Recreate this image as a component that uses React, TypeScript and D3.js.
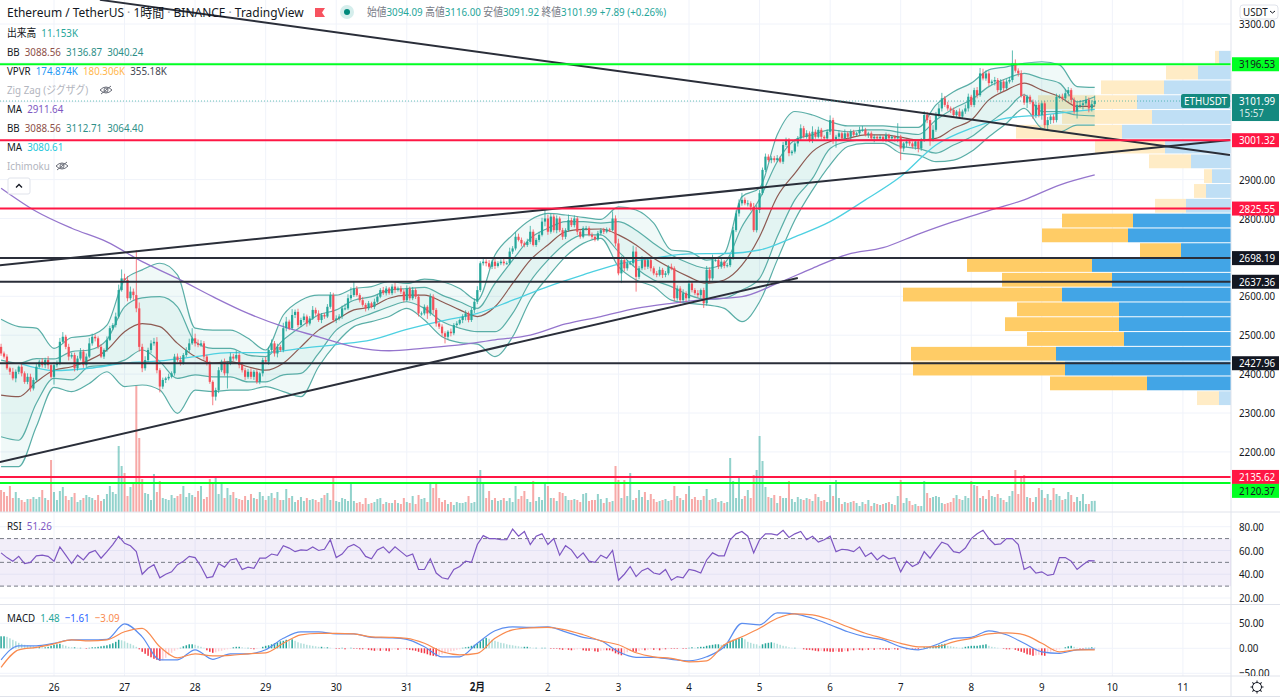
import * as d3 from 'd3';
import React, { useEffect, useRef } from 'react';

const WIDTH = 1280;
const HEIGHT = 699;
const AXIS_X = 1231;
const FONT = '"Noto Sans", "Noto Sans CJK JP", sans-serif';

const GREEN = '#26a69a';

// hourly closes (one per candle, open = previous close)
const closes = [
  2453,2445,2415,2406,2389,2406,2419,2402,2380,2393,2363,2385,2419,2432,2423,2436,2423,2393,2423,2428,
  2483,2496,2470,2445,2449,2415,2440,2458,2423,2445,2479,2496,2492,2470,2445,2462,2488,2518,2526,2548,
  2616,2646,2642,2595,2612,2603,2569,2470,2415,2436,2462,2479,2483,2410,2368,2385,2389,2393,2402,2445,
  2436,2428,2449,2462,2479,2492,2479,2475,2479,2445,2428,2380,2342,2359,2410,2432,2402,2428,2445,2440,
  2449,2423,2410,2393,2406,2393,2406,2380,2402,2436,2432,2462,2479,2453,2470,2462,2518,2535,2518,2552,
  2560,2526,2539,2548,2530,2543,2565,2556,2539,2552,2548,2573,2603,2539,2543,2548,2569,2569,2595,2603,
  2620,2603,2590,2578,2569,2582,2573,2586,2599,2616,2608,2620,2608,2625,2616,2620,2612,2590,2620,2595,
  2616,2599,2556,2556,2573,2556,2599,2565,2530,2522,2505,2496,2509,2505,2526,2530,2539,2548,2556,2539,
  2565,2586,2616,2685,2689,2685,2676,2689,2678,2685,2689,2685,2685,2715,2723,2753,2745,2736,2732,2740,
  2766,2732,2745,2758,2792,2800,2766,2805,2770,2800,2770,2753,2770,2796,2783,2800,2766,2753,2775,2775,
  2758,2753,2746,2762,2770,2766,2772,2770,2800,2736,2659,2693,2672,2685,2685,2715,2650,2672,2693,2676,
  2693,2672,2659,2655,2668,2655,2659,2676,2672,2595,2620,2590,2608,2595,2633,2616,2608,2603,2616,2582,
  2668,2646,2693,2693,2676,2689,2678,2680,2700,2770,2813,2839,2848,2839,2839,2830,2770,2822,2865,2925,
  2959,2950,2955,2950,2955,2946,2989,3002,2968,2972,2993,3006,3032,3010,3019,3002,3023,3010,3028,3010,
  3006,3023,3053,3002,3010,3019,3006,3019,3010,3023,3015,3019,3028,3028,3015,3019,3006,3010,3006,3010,
  3002,3015,3006,3010,3006,3010,2980,2993,2998,2993,2985,2998,2980,3002,3066,3053,3002,3028,3066,3083,
  3109,3092,3083,3079,3066,3075,3062,3075,3083,3113,3092,3130,3117,3173,3160,3173,3148,3152,3156,3130,
  3152,3135,3152,3156,3199,3180,3173,3115,3098,3113,3100,3066,3092,3066,3096,3040,3053,3062,3053,3113,
  3113,3109,3122,3130,3105,3075,3092,3092,3096,3105,3083,3094,3101.99,
];
const firstOpen = 2470;

const wickUp = [
  8,5,6,4,10,6,3,7,5,9,8,6,10,5,9,6,10,5,8,7,10,12,5,8,6,6,7,9,5,8,14,8,6,5,7,4,9,6,5,10,
  14,23,12,10,13,8,116,15,8,10,6,8,10,12,5,6,4,8,5,7,8,10,5,7,12,26,12,10,8,6,5,6,4,6,8,5,8,6,10,7,
  12,5,8,6,7,9,5,6,4,6,8,8,10,6,8,5,14,12,5,15,6,8,6,8,5,6,10,6,8,5,5,7,8,6,8,6,7,12,10,20,
  17,6,5,8,5,6,4,8,6,5,8,6,4,6,10,5,7,6,8,5,8,5,6,5,6,4,8,6,5,4,6,5,4,8,5,6,4,6,8,5,
  6,8,10,5,12,6,8,5,8,5,6,7,5,10,6,12,8,6,5,8,15,6,5,8,10,22,10,8,6,8,5,6,5,14,6,8,5,6,5,6,
  5,6,4,6,5,6,5,4,18,8,12,10,5,8,6,15,12,6,10,8,5,6,5,6,8,5,6,4,8,5,8,6,10,5,8,6,5,8,4,6,
  10,6,14,6,5,8,4,6,5,8,8,10,18,6,8,5,10,12,8,6,8,6,5,6,8,5,8,6,5,4,8,6,10,6,8,5,14,6,8,5,
  4,6,12,6,5,8,4,10,5,6,5,4,8,10,5,4,5,6,4,5,4,6,3,5,4,35,5,4,5,4,5,4,6,5,10,8,10,12,8,12,
  14,6,8,5,6,4,8,5,10,8,5,6,8,14,12,8,6,5,8,5,6,5,6,8,33,10,6,8,6,5,5,6,8,6,5,6,8,5,6,8,
  6,8,10,8,5,6,8,12,8,10,6,10,14,
];
const wickDown = [
  6,5,4,8,5,10,6,8,5,6,8,5,6,4,6,8,10,5,20,6,5,4,6,10,5,8,6,5,7,6,4,6,8,5,4,6,5,3,5,6,
  5,4,6,8,5,12,10,12,10,6,5,8,6,8,15,6,8,5,4,6,5,6,4,5,6,4,8,6,5,8,6,5,22,10,8,5,6,39,5,6,
  5,8,6,8,5,6,8,5,6,8,5,8,6,8,10,5,6,8,5,4,8,6,5,6,8,5,4,6,5,8,6,4,5,6,8,5,6,5,4,6,
  5,4,6,5,8,5,4,6,5,4,5,6,4,5,8,4,6,5,4,6,5,6,8,6,5,14,6,10,8,6,8,17,6,8,5,6,4,8,10,6,
  5,8,6,5,6,8,5,6,8,4,5,6,4,5,6,5,4,8,6,5,6,4,5,6,4,12,8,5,6,8,5,8,6,4,5,6,8,5,4,6,
  4,6,5,4,5,6,4,5,3,8,5,25,8,6,5,8,38,6,5,8,6,8,5,6,4,8,6,5,5,8,6,8,5,10,8,6,5,6,8,12,
  6,8,5,4,6,5,6,4,5,6,5,8,6,5,8,10,5,6,8,5,6,5,8,6,5,4,6,5,8,6,5,8,6,4,5,6,8,5,4,6,
  5,6,8,10,20,6,5,4,6,8,5,4,6,5,4,8,5,10,6,5,4,6,5,4,8,10,30,8,10,6,5,8,10,6,5,8,15,4,5,6,
  8,5,6,8,5,6,4,5,6,8,5,6,8,4,5,6,8,5,10,6,5,8,4,5,6,5,8,4,6,14,6,10,8,6,12,8,14,10,8,6,
  5,6,5,8,10,6,18,8,12,6,10,8,6,
];

// volume per candle, thousands of ETH
const volumes = [
  22,20,16,26,14,20,14,12,10,13,13,15,13,15,22,14,12,52,20,12,21,25,16,12,15,19,10,12,14,17,
  15,14,12,17,11,13,18,26,20,18,66,46,39,16,25,28,127,74,33,19,18,12,38,20,31,14,13,12,17,14,
  16,18,26,15,19,17,15,21,26,13,15,33,30,34,18,28,14,24,17,20,14,13,12,16,12,18,14,13,20,16,
  12,16,19,14,20,12,12,23,14,16,10,12,15,11,14,12,13,12,10,14,17,19,12,36,11,10,14,13,11,29,
  11,9,10,8,14,8,9,10,13,14,8,10,9,9,12,9,8,14,10,9,16,8,17,13,14,10,29,24,29,14,
  10,12,8,10,7,10,9,9,10,16,9,10,36,42,28,14,21,12,14,11,12,14,11,14,10,26,13,16,21,13,
  10,31,11,15,12,28,26,14,14,11,20,19,16,12,12,13,12,10,18,19,11,12,12,18,13,9,14,10,11,46,
  32,14,32,16,39,12,14,22,15,20,12,18,13,10,11,12,13,11,12,26,16,14,12,18,26,13,15,12,12,16,
  23,12,13,14,10,11,9,10,54,31,14,36,13,16,22,14,37,42,76,51,25,15,14,17,9,16,14,14,31,13,
  10,15,13,12,14,13,11,18,15,11,12,10,27,16,32,14,8,10,9,10,11,9,6,10,8,12,6,9,8,7,
  8,9,10,8,7,16,32,9,14,11,7,8,6,6,31,19,14,15,16,15,9,8,9,10,14,17,13,12,16,14,
  31,27,26,14,16,13,22,16,15,18,14,12,10,16,21,42,18,34,37,15,14,10,15,24,22,14,18,12,24,18,
  16,12,13,20,17,10,15,11,18,8,8,11,11.153,
];

// Bollinger bands, read every 6 candles
const BAND_STEP = 6;
const bbUpper2 = [
  2541,2522,2518,2466,2494,2499,2526,2642,2668,2685,2655,2518,2513,2513,2492,2462,2552,2590,2603,2603,2620,
  2625,2638,2633,2644,2638,2620,2590,2706,2758,2796,2813,2809,2803,2798,2830,2822,2788,2719,2715,2693,2710,
  2856,2878,3015,3075,3066,3049,3038,3038,3038,3034,3034,3092,3126,3148,3182,3190,3199,3203,3195,3139,3137,
];
const bbUpper1 = [
  2436,2428,2440,2439,2458,2462,2488,2573,2596,2599,2573,2483,2466,2466,2449,2445,2488,2522,2552,2565,2590,
  2599,2616,2620,2623,2603,2586,2569,2633,2693,2749,2775,2792,2792,2788,2792,2770,2736,2706,2685,2672,2685,
  2779,2850,2946,3002,3015,3028,3023,3028,3028,3021,3016,3053,3083,3105,3139,3160,3173,3160,3148,3100,3113,
];
const bbMiddle = [
  2346,2342,2380,2410,2419,2436,2462,2509,2530,2522,2479,2445,2428,2432,2419,2410,2428,2470,2513,2539,2565,
  2573,2595,2603,2603,2586,2565,2548,2573,2633,2693,2732,2766,2772,2773,2758,2732,2698,2672,2650,2633,2642,
  2680,2753,2856,2916,2972,2998,3006,3015,3015,3009,3002,3006,3032,3053,3105,3130,3148,3130,3113,3088,3089,
];
const bbLower1 = [
  2239,2230,2325,2389,2385,2419,2423,2436,2462,2432,2389,2398,2393,2393,2380,2380,2398,2402,2453,2513,2539,
  2556,2573,2586,2569,2535,2518,2509,2509,2556,2638,2693,2736,2758,2758,2715,2672,2642,2625,2603,2592,2595,
  2616,2646,2753,2848,2903,2980,2998,3002,3002,2985,2980,2968,2989,3010,3045,3079,3118,3075,3075,3066,3064,
];
const bbLower2 = [
  2162,2162,2265,2366,2355,2376,2406,2368,2372,2359,2299,2359,2355,2359,2359,2368,2355,2342,2419,2479,2522,
  2535,2548,2569,2539,2496,2481,2477,2445,2496,2590,2650,2702,2736,2749,2676,2642,2625,2590,2582,2578,2569,
  2535,2586,2693,2796,2873,2938,2985,2993,2993,2968,2963,2946,2950,2972,3010,3045,3083,3032,3023,3040,3040,
];

// moving averages, read every 12 candles (the fast one starts a little late)
const MA_STEP = 12;
const maFastStart = 6;
const maFast = [
  2428,2409,2415,2428,2434,2445,2455,2455,2466,2476,2488,2515,2537,2556,2590,2625,2655,2683,2698,2709,2710,
  2719,2753,2792,2848,2908,2989,3032,3058,3066,3076,
];
const maFastLast = 3080.61;
const maSlow = [
  2878,2818,2775,2740,2689,2646,2599,2556,2522,2496,2470,2460,2467,2475,2488,2500,2529,2548,2569,2582,2592,
  2599,2633,2672,2708,2725,2760,2792,2820,2848,2886,2912,
];

const RSI_STEP = 2;
const rsiValues = [
  58,54,51,55,49,50,55.5,56,55,51,63,56,49,56,52,58,60,53.5,59,65,72,66,64,59,40,45,48,37,40,42,48,51,55,54,46.5,37,38,49,46,
  52,53,44,46,45,53.5,53.5,57,56,64,62,59,60.5,60,63,60,61,69,54,57,63,65,62,55,53,60.5,63,58,63,59,55,57,44,44,53,41,37,36,44,
  46.5,51,50,65,72.5,70,70,69,69,78,72,76,65,72,74,65,70,56,64,60.5,53.5,58,51,50,56,53.5,60,35,40,46.5,38,43,45,41,40,44,35,38,
  37,44,43,41,52,58,55.5,55.5,69,74,76,72,58,69,74,74,73,77,71,74,76,69,72,67,69,72,59,61,60.5,59,63,55,58,52,56,53,54,42,51,
  46.5,49,59,53.5,60.5,67,65,59,58,62,70,74,77,70,65,65.5,70,70,65,44,46.5,41,42,39,40,54,54,51,44,48,51.5,51.26,
];

const MACD_STEP = 6;
const macdLine = [
  -23,5,5,10,17,17,18,49,23,-23,-23,-3,-22,-11,-11,-3,20,33,33,29,29,22,21,18,3,-17,-17,10,35,43,42,43,33,22,15,-7,-18,
  -18,-22,-25,-17,3,50,47,71,69,60,47,33,23,17,3,-3,7,20,22,35,27,10,-7,-10,-3,-1.61,
];
const signalLine = [
  -38,-3,2,9,17,15,17,33,40,3,-19,-11,-15,-14,-11,-9,10,27,30,30,29,23,22,20,10,-7,-13,-10,20,37,41,42,37,27,15,7,-9,
  -17,-20,-27,-25,7,23,40,60,69,67,57,43,30,20,10,3,3,13,20,29,31,27,10,-7,-3,-3.09,
];
const macdHist = [
  24,24,23,20,17,14,11,9,7,6,5,4,3,3,2,2,3,5,7,8,9,7,5,3,2,2,1,1,0,-1,1,2,2,3,4,5,6,8,10,13,
  17,16,14,11,9,6,3,-2,-7,-11,-15,-18,-21,-23,-25,-24,-19,-14,-9,-5,-2,1,4,6,8,8,7,5,3,1,
  -4,-7,-9,-8,-6,-5,-3,-2,-1,2,3,3,2,1,1,-1,-2,-1,0,3,5,6,8,10,12,14,15,17,16,18,
  15,12,10,9,7,6,5,4,3,3,2,2,1,0,-1,-1,1,-2,0,1,-1,-1,-2,-2,-1,-3,-4,-5,-4,-5,
  -4,-5,-6,-3,-2,-3,-2,-1,-2,-3,-4,-5,-7,-9,-10,-12,-14,-15,-16,-14,-12,-10,-8,-6,-5,-3,-2,1,2,3,
  5,7,10,14,18,21,19,17,15,13,11,10,8,7,6,5,4,3,3,3,2,1,1,0,1,1,0,-1,-1,-1,
  -2,-3,-2,-3,-4,-3,-2,-1,-4,-5,-5,-3,-6,-7,-5,-4,-4,-4,-6,-10,-12,-14,-13,-8,-5,-6,-7,-5,-3,-4,
  -3,-2,-3,-2,-4,-2,-2,-1,-1,-1,-1,0,-1,-1,1,2,1,2,3,3,5,6,7,8,8,7,8,9,15,17,
  18,20,21,18,13,11,9,8,5,8,10,11,12,11,9,7,5,4,2,1,1,0,0,-2,-3,-3,-4,-5,-6,-5,
  -6,-6,-7,-7,-6,-7,-7,-5,-6,-4,-4,-3,-3,-4,-3,-3,-2,-3,-2,-2,-2,-3,-3,-2,-2,-3,-2,-1,-2,-1,
  -1,-1,-2,-1,2,2,3,4,5,7,8,9,5,4,3,2,1,1,3,4,5,5,5,6,7,8,5,3,2,1,
  0,-1,-2,-2,-1,-3,-5,-7,-9,-12,-13,-15,-14,-13,-14,-15,-10,-7,-6,-3,-2,0,2,4,5,3,1,-1,-1,1,1,2,1.48,
];

// visible range volume profile, top bin first (thousands)
const vpvrTop = 3231;
const vpvrBinSize = 38.05;
const vpvrUp = [24,66,134,188,158,218,132,80,38,50,90,196,206,100,278,238,338,224,224,214,350,332,168,24];
const vpvrDown = [8,64,126,198,180,212,140,84,16,24,62,142,172,82,250,220,318,204,228,194,290,304,194,44];
const vpvrStrong = [11,12,13,14,15,16,17,18,19,20,21,22];

const greenLevels = [3196.53, 2120.37];
const redLevels = [3001.32, 2825.55, 2135.62];
const blackLevels = [2698.19, 2637.36, 2427.96];

// [candle, price, candle, price]
const trendLines = [
  [33.6, 3362, 418, 2963],
  [-0.4, 2680, 418, 3002],
  [-0.4, 2174, 271, 2647],
];

const dayTicks = ['26', '27', '28', '29', '30', '31', '2月', '2', '3', '4', '5', '6', '7', '8', '9', '10', '11'];
const priceTicks = d3.range(2200, 3301, 100);
// the others sit under a price tag in the picture
const priceLabels = [3300, 2900, 2800, 2600, 2500, 2400, 2300, 2200];
const rsiTicks = [80, 60, 40, 20];
const macdTicks = [50, 0, -50];
const lastPrice = 3101.99;

type Part = [string, string];
const titleParts: Part[] = [['Ethereum / TetherUS', '#131722'], [' · ', '#9598a1'], ['1時間', '#131722'], [' · ', '#9598a1'], ['BINANCE', '#131722'], [' · ', '#9598a1'], ['TradingView', '#131722']];
const ohlcParts: Part[] = [
  ['始値', '#787b86'], ['3094.09 ', GREEN], ['高値', '#787b86'], ['3116.00 ', GREEN], ['安値', '#787b86'], ['3091.92 ', GREEN],
  ['終値', '#787b86'], ['3101.99 ', GREEN], ['+7.89 (+0.26%)', GREEN],
];
const legendRows: Part[][] = [
  [['出来高  ', '#131722'], ['11.153K', GREEN]],
  [['BB  ', '#131722'], ['3088.56  ', '#8d4f48'], ['3136.87  ', '#2e8f88'], ['3040.24', '#2e8f88']],
  [['VPVR  ', '#131722'], ['174.874K  ', '#2196f3'], ['180.306K  ', '#ffb74d'], ['355.18K', '#434651']],
  [['Zig Zag (ジグザグ)', '#b2b5be']],
  [['MA  ', '#131722'], ['2911.64', '#7e57c2']],
  [['BB  ', '#131722'], ['3088.56  ', '#8d4f48'], ['3112.71  ', '#2e8f88'], ['3064.40', '#2e8f88']],
  [['MA  ', '#131722'], ['3080.61', '#26c6da']],
  [['Ichimoku', '#b2b5be']],
];

const x = d3.scaleLinear().domain([18, 354]).range([54, 1041.8]);
const y = d3.scaleLinear().domain([3300, 2300]).range([24, 413]);
const yVol = d3.scaleLinear().domain([0, 127]).range([512, 385]);
const yRsi = d3.scaleLinear().domain([80, 20]).range([526.7, 598]);
const yMacd = d3.scaleLinear().domain([50, -50]).range([623.3, 673.3]);

const addParts = (sel: any, parts: Part[], px: number, py: number, size: number) => {
  const t = sel.append('text').attr('x', px).attr('y', py).attr('font-size', size).style('white-space', 'pre');
  parts.forEach(([s, c]) => t.append('tspan').attr('fill', c).text(s));
  return t;
};

const App: React.FC = () => {
  const ref = useRef<SVGSVGElement | null>(null);

  useEffect(() => {
    const svg = d3.select(ref.current);
    svg.selectAll('*').remove();
    svg.attr('font-family', FONT);
    svg.append('rect').attr('width', WIDTH).attr('height', HEIGHT).attr('fill', '#fff');

    const clip = svg.append('defs');
    clip.append('clipPath').attr('id', 'main').append('rect').attr('width', AXIS_X).attr('height', 512);
    clip.append('clipPath').attr('id', 'macd-ticks').append('rect').attr('x', 0).attr('y', 605).attr('width', 49).attr('height', 71);

    // grid
    const grid = svg.append('g').attr('stroke', '#f0f3fa').attr('stroke-width', 1);
    dayTicks.forEach((_, k) => {
      const px = x(18 + k * 24);
      grid.append('line').attr('x1', px).attr('x2', px).attr('y1', 0).attr('y2', 676);
    });
    [...priceTicks.map(d => y(d)), ...rsiTicks.map(d => yRsi(d)), ...macdTicks.map(d => yMacd(d))].forEach(py => {
      grid.append('line').attr('x1', 0).attr('x2', AXIS_X).attr('y1', py).attr('y2', py);
    });

    const opens = closes.map((_, i) => (i === 0 ? firstOpen : closes[i - 1]));
    const isUp = (i: number) => closes[i] >= opens[i];

    // volume
    svg.append('g').selectAll('rect').data(volumes).join('rect')
      .attr('x', (_, i) => x(i) - 1)
      .attr('width', 2)
      .attr('y', d => yVol(d))
      .attr('height', d => 512 - yVol(d))
      .attr('fill', (_, i) => (isUp(i) ? 'rgba(38,166,154,0.5)' : 'rgba(239,83,80,0.5)'));

    // volume profile
    const vpWidth = d3.scaleLinear().domain([0, 700]).range([0, 350]);
    const vp = svg.append('g');
    vpvrUp.forEach((up, k) => {
      const strong = vpvrStrong.includes(k);
      const top = y(vpvrTop - k * vpvrBinSize);
      const h = y(vpvrTop - (k + 1) * vpvrBinSize) - top - 1;
      const wUp = vpWidth(up);
      const wDown = vpWidth(vpvrDown[k]);
      vp.append('rect').attr('x', AXIS_X - wUp).attr('y', top).attr('width', wUp).attr('height', h)
        .attr('fill', strong ? '#42a5e6' : '#bfdff5');
      vp.append('rect').attr('x', AXIS_X - wUp - wDown).attr('y', top).attr('width', wDown).attr('height', h)
        .attr('fill', strong ? '#ffcc66' : '#ffecc6');
    });

    const plot = svg.append('g').attr('clip-path', 'url(#main)');

    // bollinger bands
    const bandArea = d3.area<number>()
      .x((_, i) => x(i * BAND_STEP))
      .curve(d3.curveMonotoneX);
    const bandLine = d3.line<number>()
      .x((_, i) => x(i * BAND_STEP))
      .y(d => y(d))
      .curve(d3.curveMonotoneX);
    plot.append('path').datum(bbUpper2)
      .attr('d', bandArea.y0((_, i) => y(bbLower2[i])).y1(d => y(d)) as any)
      .attr('fill', 'rgba(38,166,154,0.07)');
    plot.append('path').datum(bbUpper1)
      .attr('d', bandArea.y0((_, i) => y(bbLower1[i])).y1(d => y(d)) as any)
      .attr('fill', 'rgba(38,166,154,0.06)');
    [bbUpper2, bbUpper1, bbLower1, bbLower2].forEach(s => {
      plot.append('path').datum(s).attr('d', bandLine as any).attr('fill', 'none').attr('stroke', '#5aaea7').attr('stroke-width', 1.2);
    });
    plot.append('path').datum(bbMiddle).attr('d', bandLine as any).attr('fill', 'none').attr('stroke', '#8d5a52').attr('stroke-width', 1.2);

    // moving averages
    const maFastPts: [number, number][] = [...maFast.map((v, i): [number, number] => [maFastStart + i * MA_STEP, v]), [372, maFastLast]];
    const maLine = d3.line<[number, number]>().x(d => x(d[0])).y(d => y(d[1])).curve(d3.curveMonotoneX);
    plot.append('path').datum(maFastPts).attr('d', maLine as any).attr('fill', 'none').attr('stroke', '#4dd0e1').attr('stroke-width', 1.3);
    plot.append('path').datum(maSlow.map((v, i): [number, number] => [i * MA_STEP, v])).attr('d', maLine as any)
      .attr('fill', 'none').attr('stroke', '#9575cd').attr('stroke-width', 1.3);

    // candles
    const candles = plot.append('g');
    closes.forEach((c, i) => {
      const o = opens[i];
      const color = isUp(i) ? GREEN : '#f4505a';
      const hi = Math.max(o, c) + wickUp[i];
      const lo = Math.min(o, c) - wickDown[i];
      candles.append('line').attr('x1', x(i)).attr('x2', x(i)).attr('y1', y(hi)).attr('y2', y(lo))
        .attr('stroke', color).attr('stroke-opacity', 0.75).attr('stroke-width', 1);
      candles.append('rect').attr('x', x(i) - 1.1).attr('width', 2.2)
        .attr('y', y(Math.max(o, c))).attr('height', Math.max(1, Math.abs(y(o) - y(c))))
        .attr('fill', color);
    });

    // last price dotted line
    svg.append('line').attr('x1', 0).attr('x2', AXIS_X).attr('y1', y(lastPrice)).attr('y2', y(lastPrice))
      .attr('stroke', GREEN).attr('stroke-opacity', 0.7).attr('stroke-dasharray', '1 2');

    // drawn lines
    trendLines.forEach(([a, pa, b, pb]) => {
      plot.append('line').attr('x1', x(a)).attr('y1', y(pa)).attr('x2', x(b)).attr('y2', y(pb))
        .attr('stroke', '#2a2e39').attr('stroke-width', 2);
    });
    const level = (v: number, color: string) => {
      svg.append('line').attr('x1', 0).attr('x2', AXIS_X).attr('y1', y(v)).attr('y2', y(v)).attr('stroke', color).attr('stroke-width', 2);
    };
    greenLevels.forEach(v => level(v, '#00ff22'));
    redLevels.forEach(v => level(v, '#ff1744'));
    blackLevels.forEach(v => level(v, '#2a2e39'));

    // separators
    const sep = svg.append('g').attr('stroke', '#e0e3eb');
    [[0, WIDTH, 512, 512], [0, WIDTH, 604.5, 604.5], [0, WIDTH, 676, 676], [AXIS_X, AXIS_X, 0, 696], [0, WIDTH, 696.5, 696.5]].forEach(([a, b, c, d]) => {
      sep.append('line').attr('x1', a).attr('x2', b).attr('y1', c).attr('y2', d);
    });

    // RSI
    svg.append('rect').attr('x', 0).attr('width', AXIS_X).attr('y', yRsi(70)).attr('height', yRsi(30) - yRsi(70)).attr('fill', 'rgba(126,87,194,0.1)');
    [70, 50, 30].forEach(v => {
      svg.append('line').attr('x1', 0).attr('x2', AXIS_X).attr('y1', yRsi(v)).attr('y2', yRsi(v))
        .attr('stroke', '#787b86').attr('stroke-dasharray', '4 3');
    });
    const rsiPath = d3.line<number>().x((_, i) => x(i * RSI_STEP)).y(d => yRsi(d));
    svg.append('path').datum(rsiValues).attr('d', rsiPath as any).attr('fill', 'none').attr('stroke', '#7e57c2').attr('stroke-width', 1.2);

    // MACD
    svg.append('g').selectAll('rect').data(macdHist).join('rect')
      .attr('x', (_, i) => x(i) - 0.75)
      .attr('width', 1.5)
      .attr('y', d => Math.min(yMacd(d), yMacd(0)))
      .attr('height', d => Math.abs(yMacd(d) - yMacd(0)))
      .attr('fill', (d, i) => {
        const prev = i === 0 ? d : macdHist[i - 1];
        if (d >= 0) return d >= prev ? GREEN : '#b2dfdb';
        return d <= prev ? '#f23645' : '#ffcdd2';
      });
    const macdPath = d3.line<number>().x((_, i) => x(i * MACD_STEP)).y(d => yMacd(d)).curve(d3.curveMonotoneX);
    svg.append('path').datum(macdLine).attr('d', macdPath as any).attr('fill', 'none').attr('stroke', '#5b8def').attr('stroke-width', 1.2);
    svg.append('path').datum(signalLine).attr('d', macdPath as any).attr('fill', 'none').attr('stroke', '#f98b4f').attr('stroke-width', 1.2);

    // axes
    const styleAxis = (g: any) => {
      g.select('.domain').remove();
      g.selectAll('line').remove();
      g.selectAll('text').attr('fill', '#131722').attr('font-size', 11.5).attr('font-family', FONT).attr('x', 8);
    };
    svg.append('g').attr('transform', `translate(${AXIS_X},0)`)
      .call(d3.axisRight(y).tickValues(priceLabels).tickFormat(d3.format('.2f') as any)).call(styleAxis);
    svg.append('g').attr('transform', `translate(${AXIS_X},0)`)
      .call(d3.axisRight(yRsi).tickValues(rsiTicks).tickFormat(d3.format('.2f') as any)).call(styleAxis);
    svg.append('g').attr('transform', `translate(${AXIS_X},0)`).attr('clip-path', 'url(#macd-ticks)')
      .call(d3.axisRight(yMacd).tickValues(macdTicks).tickFormat(d => d3.format('.2f')(d as number).replace('-', '−')) as any).call(styleAxis);

    const days = svg.append('g').attr('font-size', 11.5).attr('fill', '#131722').attr('text-anchor', 'middle');
    dayTicks.forEach((d, k) => {
      days.append('text').attr('x', x(18 + k * 24)).attr('y', 691).attr('font-size', 11.5).attr('font-weight', d === '2月' ? 700 : 400).text(d);
    });

    // price tags; shift moves a tag off the one it would collide with
    const tag = (v: number, fill: string, color: string, shift = 0) => {
      const py = y(v) + shift;
      svg.append('rect').attr('x', AXIS_X + 1).attr('y', py - 7).attr('width', 47).attr('height', 14).attr('fill', fill);
      svg.append('text').attr('x', AXIS_X + 8).attr('y', py + 4).attr('font-size', 11.5).attr('fill', color).text(v.toFixed(2));
    };
    tag(3196.53, '#00ff22', '#131722');
    tag(3001.32, '#ff1744', '#fff');
    tag(2825.55, '#ff1744', '#fff');
    tag(2698.19, '#131722', '#fff');
    tag(2637.36, '#131722', '#fff');
    tag(2427.96, '#131722', '#fff');
    tag(2135.62, '#ff1744', '#fff');
    tag(2120.37, '#00ff22', '#131722', 8);

    const py = y(lastPrice);
    svg.append('rect').attr('x', AXIS_X + 1).attr('y', py - 7).attr('width', 47).attr('height', 27).attr('fill', '#14897f');
    svg.append('text').attr('x', AXIS_X + 8).attr('y', py + 4).attr('font-size', 11.5).attr('fill', '#fff').text(lastPrice.toFixed(2));
    svg.append('text').attr('x', AXIS_X + 8).attr('y', py + 16).attr('font-size', 11.5).attr('fill', '#fff').attr('fill-opacity', 0.85).text('15:57');
    svg.append('rect').attr('x', 1181).attr('y', py - 7).attr('width', 49).attr('height', 14).attr('rx', 2).attr('fill', '#14897f');
    svg.append('text').attr('x', 1205.5).attr('y', py + 4).attr('font-size', 11.5).attr('text-anchor', 'middle').attr('fill', '#fff').text('ETHUSDT');

    // USDT button
    svg.append('rect').attr('x', 1240).attr('y', 5).attr('width', 38).attr('height', 14).attr('rx', 3).attr('fill', '#fff').attr('stroke', '#e0e3eb');
    svg.append('text').attr('x', 1243).attr('y', 16).attr('font-size', 11.5).attr('fill', '#131722').text('USDT');
    svg.append('path').attr('d', 'M1270 11l2.5 2 2.5-2').attr('fill', 'none').attr('stroke', '#131722');

    // gear
    const gear = svg.append('g').attr('transform', 'translate(1257,687)').attr('stroke', '#131722').attr('fill', 'none');
    gear.append('circle').attr('r', 4.5);
    d3.range(0, 360, 45).forEach(a => {
      gear.append('line').attr('x1', 0).attr('x2', 0).attr('y1', -4.5).attr('y2', -6.5).attr('transform', `rotate(${a})`);
    });

    // legend
    addParts(svg, titleParts, 7, 17, 13);
    svg.append('path').attr('d', 'M315 8h10l-3 4.5 3 4.5h-10z').attr('fill', '#f7525f');
    svg.append('circle').attr('cx', 347).attr('cy', 12).attr('r', 7).attr('fill', '#d5eeec');
    svg.append('circle').attr('cx', 347).attr('cy', 12).attr('r', 3).attr('fill', '#00897b');
    addParts(svg, ohlcParts, 367, 16, 11.5);
    legendRows.forEach((row, k) => {
      addParts(svg, row, 7, 37 + k * 19, 11.5);
    });
    const eye = (cx: number, cy: number) => {
      const g = svg.append('g').attr('transform', `translate(${cx},${cy})`).attr('fill', 'none').attr('stroke', '#6a6d78');
      g.append('path').attr('d', 'M-6 0Q0-6 6 0Q0 6-6 0z');
      g.append('circle').attr('r', 2);
      g.append('line').attr('x1', -5).attr('y1', 4).attr('x2', 5).attr('y2', -4);
    };
    eye(106, 90);
    eye(62, 166);
    svg.append('rect').attr('x', 8).attr('y', 178).attr('width', 22).attr('height', 16).attr('rx', 2).attr('fill', '#fff').attr('stroke', '#e0e3eb');
    svg.append('path').attr('d', 'M16 187.5l3-3 3 3').attr('fill', 'none').attr('stroke', '#131722').attr('stroke-width', 1.3);

    addParts(svg, [['RSI  ', '#131722'], ['51.26', '#7e57c2']], 7, 530, 11.5);
    addParts(svg, [['MACD  ', '#131722'], ['1.48  ', GREEN], ['−1.61  ', '#2962ff'], ['−3.09', '#f98b4f']], 7, 622, 11.5);

    // the screenshot's text is narrower than any installed face, so squeeze it
    svg.selectAll<SVGTextElement, unknown>('text').each(function () {
      const px = Number(this.getAttribute('x')) || 0;
      const ratio = Number(this.getAttribute('font-size')) === 13 ? 0.92 : 0.85;
      this.setAttribute('transform', `translate(${px},0) scale(${ratio},1) translate(${-px},0)`);
    });
  }, []);

  return <svg ref={ref} width={WIDTH} height={HEIGHT} style={{ position: 'absolute', left: 0, top: 0 }} />;
};

export default App;
